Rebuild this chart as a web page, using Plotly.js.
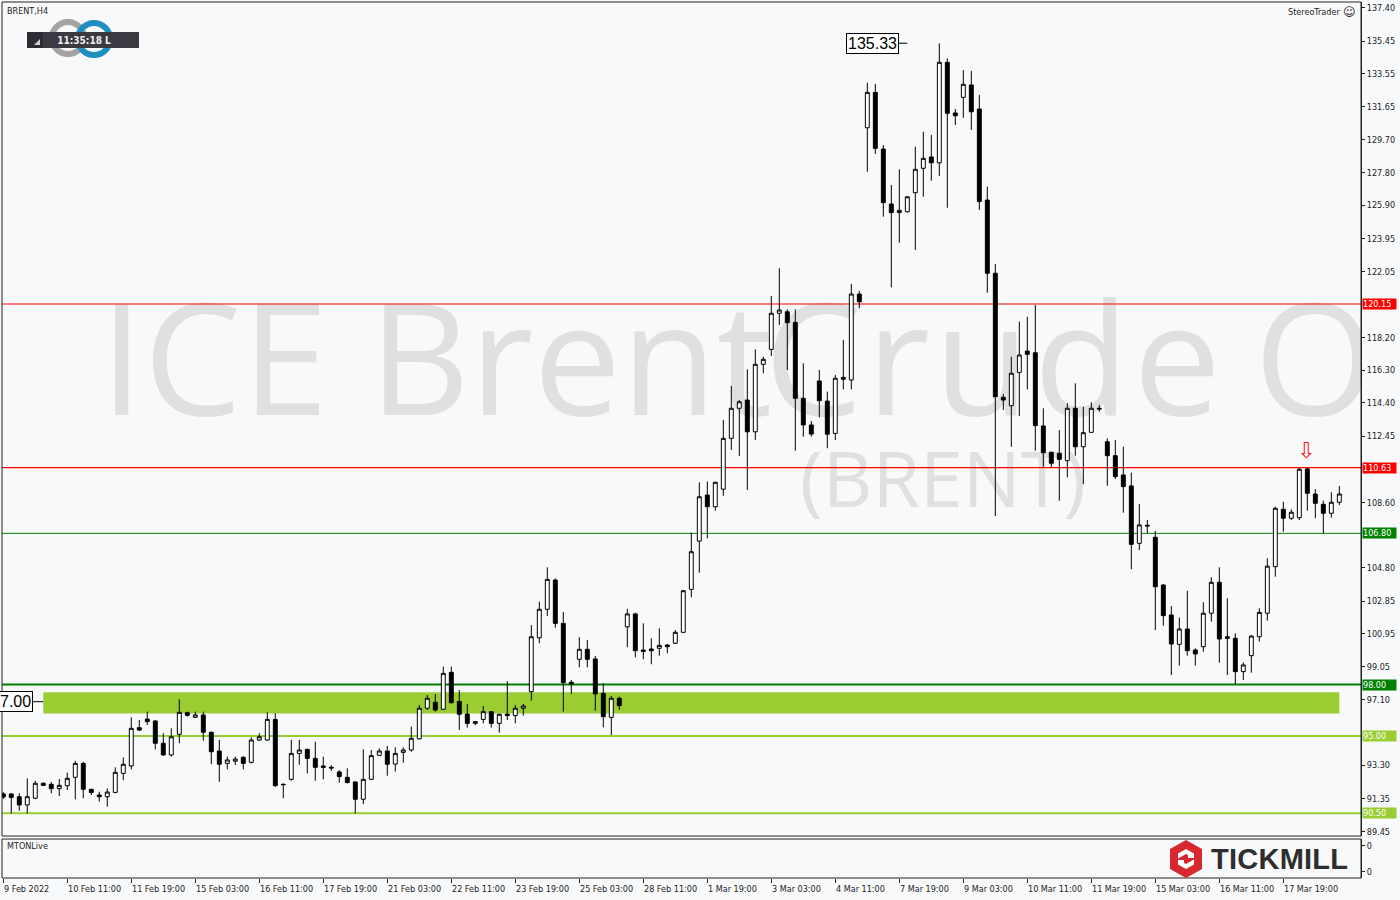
<!DOCTYPE html>
<html><head><meta charset="utf-8">
<script src="https://cdn.plot.ly/plotly-3.0.1.min.js"></script>
<style>
html,body{margin:0;padding:0;background:#f8f9fb;}
#wrap{position:relative;width:1400px;height:900px;overflow:hidden;background:#f8f9fb;}
#wm{position:absolute;left:0;top:0;z-index:0;}
#chart{position:absolute;left:0;top:0;width:1400px;height:900px;z-index:1;}
#ov{position:absolute;left:0;top:0;z-index:2;pointer-events:none;}
</style></head><body>
<div id="wrap">
<svg id="wm" width="1361" height="836">
  <text y="415" font-family="Open Sans" font-size="156" fill="#dfe0e1"><tspan x="100">ICE Brent</tspan><tspan x="764" letter-spacing="4">Crude</tspan><tspan x="1254" letter-spacing="0">O</tspan></text>
  <text x="800" y="507" font-family="Open Sans" font-size="77" fill="#dfe0e1">(BRENT)</text>
</svg>
<div id="chart"></div>
<svg id="ov" width="1400" height="900">
  <text x="7" y="14" font-family="DejaVu Sans Condensed, DejaVu Sans" font-size="9" fill="#222">BRENT,H4</text>
  <circle cx="68" cy="38" r="16" fill="none" stroke="#a3a3a3" stroke-width="6"/>
  <circle cx="94" cy="39" r="16" fill="none" stroke="#1f8fc0" stroke-width="6"/>
  <rect x="27" y="32" width="112" height="16" fill="#3b3a42"/>
  <rect x="27" y="32" width="16" height="16" fill="#2e2d34"/>
  <path d="M40 45 L40 39 L34 45 Z" fill="#d0d0d0"/>
  <text x="84" y="44" text-anchor="middle" font-family="DejaVu Sans Condensed, DejaVu Sans" font-weight="bold" font-size="10" fill="#eeeeee">11:35:18 L</text>
  <text x="1288" y="15" font-family="DejaVu Sans Condensed, DejaVu Sans" font-size="9" fill="#222">StereoTrader</text>
  <text x="1343" y="16" font-family="DejaVu Sans" font-size="12" fill="#222">☺</text>
  <text x="7" y="849" font-family="DejaVu Sans Condensed, DejaVu Sans" font-size="9" fill="#222">MTONLive</text>
  <path d="M1186 840 L1202 849 L1202 869 L1186 878 L1170 869 L1170 849 Z" fill="#d7282f"/>
  <path d="M1186 849 L1194 853.5 L1194 858 L1188 858 L1188 855 L1186 854 L1178 858.5 L1178 853.5 Z" fill="#ffffff"/>
  <path d="M1186 869 L1178 864.5 L1178 860 L1184 860 L1184 863 L1186 864 L1194 859.5 L1194 864.5 Z" fill="#ffffff"/>
  <text x="1211" y="869" font-family="Liberation Sans" font-weight="bold" font-size="29" textLength="137" fill="#2e2e2e">TICKMILL</text>
</svg>
</div>
<script>
// ---- data ----
const openP = [91.63,91.63,91.47,90.99,91.38,92.25,92.19,91.94,92.11,92.60,93.41,91.90,91.57,91.47,91.72,92.83,93.26,95.49,95.99,95.88,94.58,93.90,95.10,96.36,96.09,96.23,95.22,94.13,93.41,93.54,93.76,93.47,94.77,94.77,95.97,92.19,92.48,93.99,94.23,93.70,93.26,93.18,92.91,92.60,92.33,91.32,92.48,93.88,94.13,93.37,94.05,94.19,94.84,96.62,96.97,96.56,98.71,97.02,96.28,95.74,95.97,96.42,95.74,96.28,96.19,96.62,97.58,100.72,102.38,104.08,101.56,98.13,99.47,100.05,99.49,97.49,96.09,97.20,101.36,102.11,100.01,100.07,100.11,100.30,100.40,101.04,103.54,106.35,109.03,108.35,109.37,112.33,114.08,114.56,112.71,116.64,117.51,119.61,119.70,119.08,114.66,113.11,115.67,114.50,112.62,115.88,115.73,120.73,130.41,132.47,129.17,125.97,125.47,125.52,126.63,128.05,128.71,128.37,134.22,131.27,132.18,132.90,131.50,126.20,121.94,114.72,114.23,116.17,117.41,117.31,113.05,111.52,111.46,111.03,114.08,111.84,112.68,114.08,112.13,111.32,110.20,109.56,106.22,107.27,106.57,103.79,102.05,100.34,101.23,100.01,100.20,102.15,103.95,100.78,100.69,98.75,99.68,100.78,102.15,104.86,108.20,107.68,107.71,110.55,109.09,108.49,107.97,108.61];
const highP = [91.74,91.67,91.67,92.54,92.40,92.31,92.33,92.50,92.87,93.56,93.50,91.92,91.76,91.96,93.18,93.76,96.09,95.94,96.42,95.92,95.16,95.45,97.14,96.42,96.42,96.42,95.25,94.77,93.80,93.80,93.84,94.93,95.16,96.38,96.32,92.25,94.77,94.77,94.25,94.67,93.80,93.30,93.02,93.12,92.35,94.23,94.19,94.29,94.42,94.35,94.35,95.55,96.81,97.39,97.45,99.04,99.04,97.68,96.87,95.86,96.75,96.45,96.30,98.20,96.81,96.87,101.46,102.82,104.82,104.18,102.22,98.26,100.75,100.59,99.66,98.07,97.33,97.29,102.40,102.18,101.56,100.69,101.27,100.36,101.17,103.50,106.84,109.77,109.81,109.81,113.40,115.38,114.56,116.35,117.51,117.08,120.62,122.23,119.84,119.84,116.70,113.34,116.31,115.05,116.02,118.05,121.31,120.91,133.03,132.96,129.40,127.08,127.99,126.44,129.30,130.18,129.99,135.32,134.45,131.50,133.77,133.71,132.32,126.98,122.48,114.91,117.08,119.12,119.41,120.09,114.08,111.55,112.81,114.37,115.53,114.17,114.43,114.27,112.33,112.23,111.84,110.33,108.51,107.58,106.94,103.85,102.57,101.89,103.45,100.11,102.79,104.24,104.82,103.02,100.98,99.29,100.88,102.44,105.35,108.35,108.64,108.20,110.60,110.63,109.38,108.70,109.19,109.56];
const lowP = [91.34,90.50,90.65,90.50,91.32,92.09,91.67,91.51,91.86,91.32,91.38,91.57,91.18,90.89,91.67,92.44,93.06,95.29,95.65,94.23,93.84,93.80,94.58,96.13,96.07,94.73,93.36,92.34,93.06,93.32,93.06,93.41,94.71,94.73,92.05,91.38,92.40,93.32,92.83,92.40,92.48,92.98,92.29,92.25,90.50,91.04,92.44,93.84,92.69,92.93,93.45,94.09,94.81,96.52,96.42,96.52,96.90,95.35,95.49,95.63,95.74,95.49,95.20,95.94,95.74,96.19,97.06,100.40,101.99,101.31,96.42,97.45,99.00,99.00,96.47,95.51,95.06,96.52,100.17,99.58,99.47,99.18,99.68,99.82,100.36,101.02,103.08,104.51,106.51,108.12,108.99,111.65,111.30,109.32,112.23,116.12,117.12,118.93,116.31,111.61,112.43,112.43,113.55,111.75,112.23,115.18,115.18,119.90,127.85,128.88,125.23,121.12,123.72,125.47,123.29,126.39,127.33,127.60,125.75,130.57,130.99,130.28,125.62,120.81,107.81,113.98,111.84,113.63,115.18,111.61,110.68,110.65,108.70,110.06,111.32,109.66,112.66,113.88,109.57,109.96,108.00,104.72,105.83,106.80,101.17,101.42,98.55,99.10,99.68,99.10,99.91,101.66,99.27,98.55,98.03,98.26,98.69,100.50,101.72,104.28,106.89,107.58,107.58,108.12,107.68,106.80,107.71,108.45];
const closeP = [91.45,91.43,90.99,91.47,92.25,92.13,91.94,92.13,92.54,93.41,91.90,91.72,91.47,91.74,92.89,93.36,95.45,95.35,95.84,94.58,93.90,94.96,96.38,96.21,96.23,95.22,94.09,93.36,93.61,93.66,93.41,94.77,94.96,95.97,92.11,92.17,93.99,94.19,93.70,93.18,93.18,93.14,92.64,92.29,91.32,92.48,93.86,94.13,93.36,93.99,94.19,94.87,96.62,97.20,96.52,98.65,96.94,96.27,95.74,95.84,96.42,95.74,96.27,96.19,96.62,96.75,100.78,102.38,104.12,101.56,98.11,98.03,100.05,99.47,97.45,96.13,97.20,96.77,102.11,99.97,99.93,99.97,100.28,100.20,101.04,103.46,105.73,108.93,108.35,109.77,112.33,114.08,114.46,112.71,116.64,116.93,119.61,119.80,119.06,114.66,113.11,112.58,114.52,112.57,115.83,115.77,120.73,120.28,132.47,129.21,126.05,125.47,125.60,126.39,127.99,128.63,128.37,134.22,131.25,131.11,132.94,131.34,126.11,121.94,114.75,114.56,116.12,117.18,117.22,113.07,111.49,110.88,111.11,114.08,111.84,112.66,114.08,114.04,111.32,110.10,109.52,106.16,107.29,107.23,103.69,102.01,100.36,101.23,99.97,99.78,102.15,103.95,100.65,100.69,98.75,99.14,100.82,102.20,104.89,108.26,107.68,108.03,110.53,109.13,108.55,107.97,108.61,109.09];

const tickIdx = [0,8,16,24,32,40,48,56,64,72,80,88,96,104,112,120,128,136,144,152,160];
const tickLabels = ['9 Feb 2022','10 Feb 11:00','11 Feb 19:00','15 Feb 03:00','16 Feb 11:00','17 Feb 19:00','21 Feb 03:00','22 Feb 11:00','23 Feb 19:00','25 Feb 03:00','28 Feb 11:00','1 Mar 19:00','3 Mar 03:00','4 Mar 11:00','7 Mar 19:00','9 Mar 03:00','10 Mar 11:00','11 Mar 19:00','15 Mar 03:00','16 Mar 11:00','17 Mar 19:00'];

const priceTicks = [137.40,135.45,133.55,131.65,129.70,127.80,125.90,123.95,122.05,118.20,116.30,114.40,112.45,108.60,104.80,102.85,100.95,99.05,97.10,93.30,91.35,89.45];

const levelValues = [120.15, 110.63, 106.80, 98.00, 95.00, 90.50];
const levelColors = ['#ff0000','#ff0000','#008000','#008000','#9acd32','#9acd32'];
const levelWidths = [1.2, 1.2, 1, 2, 2, 2];

const zoneLow = 96.32, zoneHigh = 97.55, zoneStart = 5, zoneEnd = 167;
const peakLabel = 135.33;
const zoneLabel = 97.00;
const arrowIndex = 162.8, arrowPrice = 111.6;

// ---- figure ----
const FONT = 'DejaVu Sans Condensed, DejaVu Sans, sans-serif';
const xIdx = openP.map((_, i) => i);

const traces = [
  {
    type: 'candlestick', x: xIdx, open: openP, high: highP, low: lowP, close: closeP,
    xaxis: 'x', yaxis: 'y',
    increasing: {line: {color: '#000000', width: 1}, fillcolor: '#ffffff'},
    decreasing: {line: {color: '#000000', width: 1}, fillcolor: '#000000'},
    whiskerwidth: 0, hoverinfo: 'skip', showlegend: false
  },
  {type: 'scatter', x: [], y: [], xaxis: 'x', yaxis: 'y2', showlegend: false}
];

const shapes = [];
shapes.push({type: 'rect', xref: 'x', yref: 'y', x0: zoneStart, x1: zoneEnd, y0: zoneLow, y1: zoneHigh,
  fillcolor: '#9acd32', line: {width: 0}, layer: 'below'});
levelValues.forEach((v, k) => {
  shapes.push({type: 'line', xref: 'paper', yref: 'y', x0: 0, x1: 1, y0: v, y1: v,
    line: {color: levelColors[k], width: levelWidths[k]}, layer: 'below'});
});
shapes.push({type: 'rect', xref: 'paper', yref: 'y domain', x0: 0, x1: 1, y0: 0, y1: 1, line: {color: '#222', width: 1}});
shapes.push({type: 'rect', xref: 'paper', yref: 'y2 domain', x0: 0, x1: 1, y0: 0, y1: 1, line: {color: '#222', width: 1}});
// connector lines of the two price labels
shapes.push({type: 'line', xref: 'x', yref: 'y', x0: 111.8, x1: 113.0, y0: peakLabel, y1: peakLabel, line: {color: '#000', width: 1}});
shapes.push({type: 'line', xref: 'x', yref: 'y', x0: 3.7, x1: 5.0, y0: zoneLabel, y1: zoneLabel, line: {color: '#000', width: 1}});

const annotations = [];
tickLabels.forEach((t, k) => {
  annotations.push({xref: 'x', yref: 'paper', x: tickIdx[k], y: 0, xanchor: 'left', yanchor: 'top',
    yshift: -4, xshift: -1, text: t, showarrow: false, font: {family: FONT, size: 9, color: '#222'}});
});
levelValues.forEach((v, k) => {
  annotations.push({xref: 'paper', yref: 'y', x: 1, y: v, xanchor: 'left', yanchor: 'middle', xshift: 1,
    text: v.toFixed(2), showarrow: false, bgcolor: levelColors[k], width: 33, height: 10, borderpad: 0, align: 'left',
    font: {family: FONT, size: 9, color: '#ffffff'}});
});
annotations.push({xref: 'x', yref: 'y', x: 105.3, y: peakLabel, xanchor: 'left', yanchor: 'middle',
  text: peakLabel.toFixed(2), showarrow: false, bordercolor: '#000', borderwidth: 1, borderpad: 1,
  bgcolor: '#ffffff', font: {family: 'Liberation Sans', size: 16, color: '#000'}});
annotations.push({xref: 'x', yref: 'y', x: 3.7, y: zoneLabel, xanchor: 'right', yanchor: 'middle',
  text: '7.00', showarrow: false, bordercolor: '#000', borderwidth: 1, borderpad: 1,
  bgcolor: '#ffffff', font: {family: 'Liberation Sans', size: 16, color: '#000'}});
annotations.push({xref: 'x', yref: 'y', x: arrowIndex, y: arrowPrice, text: '⇩', showarrow: false,
  font: {family: 'DejaVu Sans', size: 22, color: '#ff2020'}});

const layout = {
  width: 1400, height: 900,
  margin: {l: 2, r: 39, t: 2, b: 22, pad: 0},
  paper_bgcolor: 'rgba(0,0,0,0)', plot_bgcolor: 'rgba(0,0,0,0)',
  font: {family: FONT, size: 9, color: '#222'},
  showlegend: false,
  xaxis: {range: [-0.16, 169.71], anchor: 'y2', showgrid: false, zeroline: false, showline: false,
    tickvals: tickIdx, ticks: 'outside', ticklen: 4, tickcolor: '#222', showticklabels: false,
    rangeslider: {visible: false}, fixedrange: true},
  yaxis: {domain: [0.0479, 1], range: [89.18, 137.73], side: 'right', anchor: 'x', showgrid: false,
    zeroline: false, showline: true, linecolor: '#222', linewidth: 1, ticks: 'outside', ticklen: 3,
    tickcolor: '#222', tickvals: priceTicks, ticktext: priceTicks.map(v => v.toFixed(2)),
    tickfont: {family: FONT, size: 9, color: '#222'}, fixedrange: true},
  yaxis2: {domain: [0, 0.0445], range: [-0.25, 1.25], side: 'right', anchor: 'x', showgrid: false,
    zeroline: false, showline: true, linecolor: '#222', ticks: 'outside', ticklen: 3, tickcolor: '#222',
    tickvals: [0, 1], ticktext: ['0', '0'], tickfont: {family: FONT, size: 9, color: '#222'}, fixedrange: true},
  shapes: shapes,
  annotations: annotations
};

Plotly.newPlot('chart', traces, layout, {displayModeBar: false, staticPlot: true});
</script>
</body></html>
